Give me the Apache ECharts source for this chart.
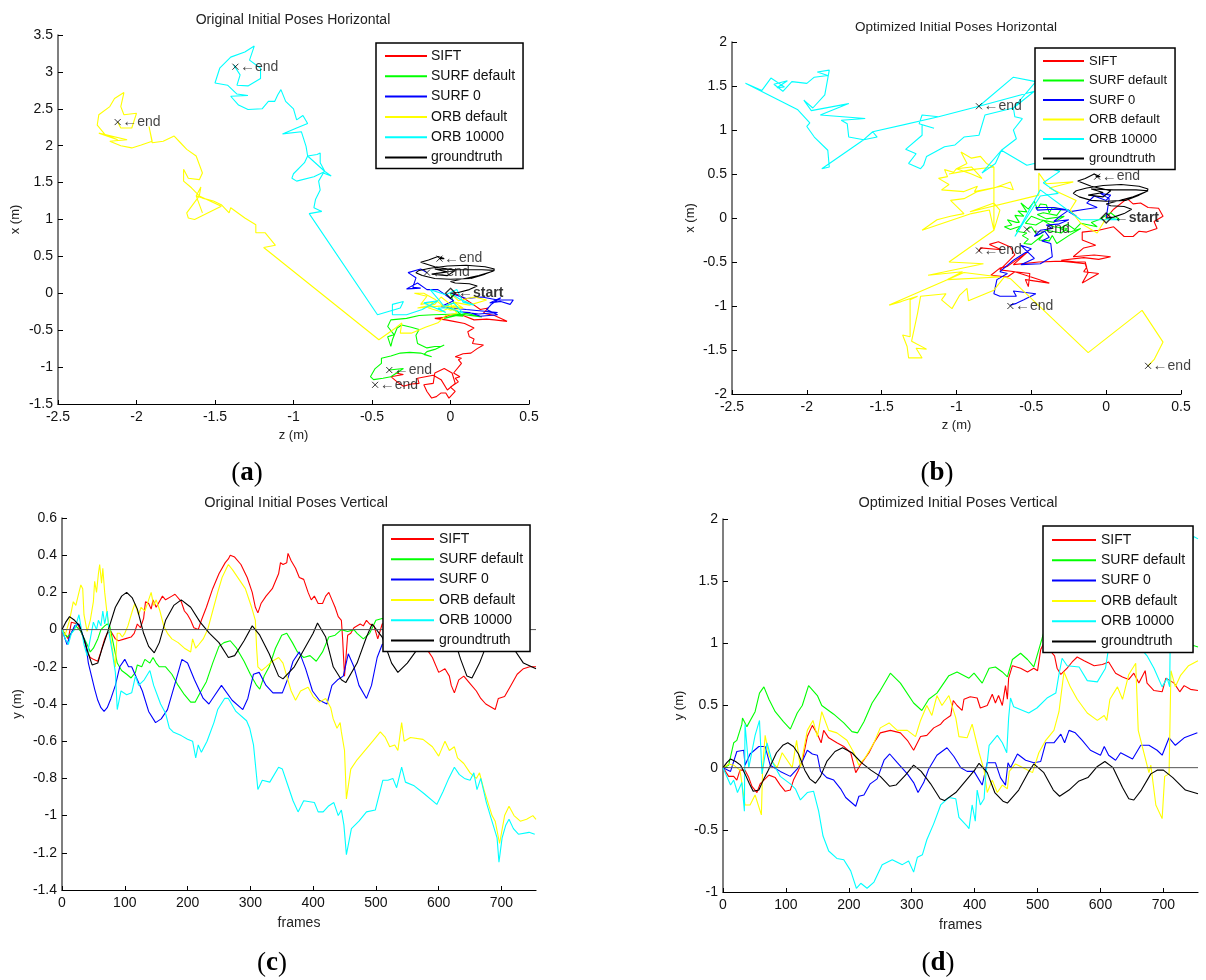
<!DOCTYPE html>
<html><head><meta charset="utf-8">
<style>html,body{margin:0;padding:0;background:#fff}#c{width:1206px;height:980px}</style>
<script src="https://cdn.jsdelivr.net/npm/echarts@6/dist/echarts.min.js"></script>
</head><body><div id="c"></div>
<script>
const seriesNames=['SIFT','SURF default','SURF 0','ORB default','ORB 10000','groundtruth'];
const seriesColors=['#ff0000','#00ff00','#0000ff','#ffff00','#00ffff','#000000'];
const horizTicksX=[-2.5,-2,-1.5,-1,-0.5,0,0.5];
const ticksYA=[-1.5,-1,-0.5,0,0.5,1,1.5,2,2.5,3,3.5];
const ticksYB=[-2,-1.5,-1,-0.5,0,0.5,1,1.5,2];
const framesTicks=[0,100,200,300,400,500,600,700];
const ticksYC=[-1.4,-1.2,-1,-0.8,-0.6,-0.4,-0.2,0,0.2,0.4,0.6];
const ticksYD=[-1,-0.5,0,0.5,1,1.5,2];
const zeroLine=[[0,0],[755,0]];
const startPoint=[[0,0]];

// groundtruth, same in both horizontal panels
const gtHoriz=[[0,0],[.05,.01],[.12,.05],[.17,.1],[.12,.13],[.03,.14],[.0,.16],[.07,.19],[.18,.24],[.27,.3],[.28,.33],[.22,.36],[.1,.38],[-.02,.37],[-.13,.34],[-.2,.31],[-.22,.28],[-.18,.24],[-.1,.2],[.0,.19],[.13,.2],[.22,.26],[.28,.31],[.2,.32],[.05,.32],[-.1,.33],[-.02,.29],[-.12,.26],[-.02,.24],[.03,.31],[-.1,.36],[-.19,.42],[-.14,.45],[-.08,.5],[-.04,.47],[-.07,.47]];

// (a) Original horizontal: [z, x]
const aSift=[[0,0],[.05,-.02],[.08,-.06],[.13,-.13],[.19,-.22],[.24,-.2],[.21,-.27],[.28,-.3],[.36,-.38],[.28,-.36],[.23,-.35],[.15,-.36],[.08,-.3],[0,-.29],[-.05,-.33],[-.1,-.34],[-.03,-.36],[.02,-.38],[.09,-.41],[.15,-.47],[.11,-.52],[.12,-.59],[.15,-.62],[.14,-.68],[.21,-.7],[.17,-.75],[.13,-.81],[.08,-.82],[.03,-.86],[.07,-.88],[.05,-.9],[.07,-.95],[.02,-1.08],[.06,-1.13],[.03,-1.15],[.05,-1.2],[0,-1.27],[.03,-1.33],[-.01,-1.42],[-.03,-1.35],[-.06,-1.35],[-.09,-1.4],[-.12,-1.42],[-.15,-1.33],[-.17,-1.24],[-.11,-1.22],[-.1,-1.08],[-.04,-1.02],[.01,-1.08],[.03,-1.22],[-.02,-1.31],[-.06,-1.17],[-.11,-1.11],[-.16,-1.13],[-.21,-1.15],[-.2,-1.22],[-.25,-1.23],[-.3,-1.26],[-.34,-1.2],[-.38,-1.13],[-.3,-1.1],[-.35,-1.08]];
const aSurfDefault=[[0,0],[.02,-.13],[-.04,-.18],[.04,-.24],[.08,-.31],[.02,-.3],[-.04,-.34],[.1,-.27],[.2,-.32],[.05,-.28],[-.11,-.29],[-.2,-.3],[-.28,-.34],[-.38,-.36],[-.4,-.45],[-.36,-.56],[-.4,-.59],[-.38,-.72],[-.37,-.63],[-.34,-.47],[-.31,-.43],[-.25,-.46],[-.2,-.49],[-.22,-.57],[-.21,-.68],[-.15,-.74],[-.1,-.72],[-.06,-.72],[-.04,-.7],[-.1,-.76],[-.15,-.79],[-.17,-.83],[-.12,-.86],[-.19,-.81],[-.26,-.8],[-.32,-.81],[-.38,-.85],[-.44,-.88],[-.44,-.95],[-.48,-1.02],[-.51,-1.13],[-.49,-1.17],[-.43,-1.15],[-.38,-1.13],[-.3,-1.02],[-.39,-1.04]];
const aSurf0=[[0,0],[.1,-.07],[.2,-.05],[.3,-.09],[.4,-.09],[.38,-.15],[.32,-.11],[.25,-.13],[.32,-.06],[.26,-.15],[.23,-.22],[.3,-.29],[.19,-.31],[.12,-.26],[.06,-.25],[.18,-.28],[.3,-.26],[.1,-.22],[-.06,-.18],[.02,-.1],[-.08,.05],[-.15,.05],[-.21,.14],[-.28,.06],[-.19,.07],[-.24,.08],[-.22,.21],[-.27,.28],[-.19,.33],[-.15,.28]];
const aOrbDefault=[[0,0],[.05,-.1],[.15,-.05],[.23,-.09],[.12,-.16],[.02,-.12],[.08,-.2],[-.05,-.17],[-.1,-.08],[-.17,0],[-.23,0],[-.15,-.04],[-.19,-.15],[-.11,-.12],[-.14,-.2],[-.06,-.25],[.02,-.17],[.08,-.2],[0,-.23],[-.05,-.17],[-.21,-.2],[-.1,-.15],[-.06,-.05],[0,-.15],[.04,-.27],[-.03,-.3],[-.08,-.4],[-.16,-.46],[-.25,-.54],[-.32,-.54],[-.31,-.4],[-.35,-.47],[-.456,-.63],[-1.19,.62],[-1.115,.65],[-1.18,.82],[-1.24,.82],[-1.24,.93],[-1.31,1.02],[-1.4,1.16],[-1.41,1.09],[-1.46,1.2],[-1.51,1.25],[-1.58,1.29],[-1.62,1.32],[-1.58,1.09],[-1.62,1.32],[-1.59,1.44],[-1.6,1.32],[-1.68,1.09],[-1.67,1.02],[-1.63,1.0],[-1.46,1.18],[-1.6,1.32],[-1.65,1.43],[-1.7,1.52],[-1.7,1.68],[-1.67,1.56],[-1.6,1.54],[-1.58,1.63],[-1.62,1.86],[-1.68,1.95],[-1.72,2.04],[-1.76,2.13],[-1.83,2.06],[-1.9,2.04],[-1.92,2.26],[-1.9,2.06],[-1.97,2.01],[-2.03,1.97],[-2.1,2.0],[-2.17,2.06],[-2.06,2.08],[-2.24,2.17],[-2.12,2.08],[-2.2,2.15],[-2.25,2.28],[-2.24,2.42],[-2.17,2.53],[-2.14,2.64],[-2.08,2.72],[-2.1,2.53],[-2.08,2.42],[-2.0,2.44],[-2.03,2.24],[-2.1,2.24],[-2.12,2.32]];
const aOrb10000=[[0,0],[.06,-.08],[.15,-.16],[.08,-.12],[.04,.05],[-.03,-.02],[-.13,.05],[-.07,-.1],[-.04,-.18],[.02,-.13],[.08,-.27],[0,-.2],[-.08,-.2],[-.03,-.26],[-.17,-.13],[-.08,-.1],[-.18,-.22],[-.28,-.29],[-.37,-.29],[-.37,-.15],[-.3,-.11],[-.32,-.2],[-.465,-.29],[-.9,1.08],[-.82,1.11],[-.87,1.16],[-.86,1.27],[-.83,1.4],[-.84,1.52],[-.81,1.63],[-.76,1.59],[-.8,1.65],[-.87,1.58],[-.98,1.52],[-1.01,1.56],[-1.0,1.62],[-.93,1.77],[-.91,1.86],[-.85,1.88],[-.83,1.9],[-.83,1.77],[-.8,1.65],[-.91,1.86],[-.92,1.99],[-.95,2.19],[-1.07,2.16],[-.98,2.24],[-.91,2.3],[-.94,2.41],[-.98,2.35],[-1.0,2.5],[-1.05,2.6],[-1.08,2.76],[-1.1,2.69],[-1.12,2.6],[-1.16,2.6],[-1.2,2.5],[-1.29,2.49],[-1.35,2.55],[-1.4,2.67],[-1.29,2.68],[-1.36,2.7],[-1.42,2.82],[-1.5,2.85],[-1.47,3.05],[-1.4,3.2],[-1.31,3.27],[-1.25,3.35],[-1.28,3.16],[-1.21,3.05],[-1.21,2.91],[-1.29,2.81],[-1.36,2.82],[-1.34,2.96],[-1.38,3.09],[-1.37,3.07]];
const aEnds=[[-2.12,2.32],[-1.37,3.07],[-.07,.47],[-.15,.28],[-.39,-1.04],[-.48,-1.24]];

// (b) Optimized horizontal: [z, x]
const bSift=[[0,0],[.05,.1],[.14,.22],[.18,.16],[.23,.17],[.28,.12],[.35,.11],[.38,.02],[.32,-.04],[.34,-.12],[.27,-.16],[.22,-.15],[.18,-.21],[.12,-.21],[.05,-.1],[-.05,-.14],[-.16,-.16],[-.16,-.25],[-.07,-.31],[-.15,-.34],[-.22,-.44],[-.08,-.42],[.03,-.44],[-.05,-.47],[-.15,-.45],[-.3,-.48],[-.2,-.5],[-.14,-.5],[-.13,-.56],[-.15,-.61],[-.05,-.63],[-.1,-.68],[-.16,-.74],[-.12,-.62],[-.14,-.52],[-.3,-.49],[-.45,-.5],[-.62,-.53],[-.52,-.38],[-.66,-.55],[-.71,-.57],[-.77,-.65],[-.66,-.67],[-.61,-.61],[-.51,-.63],[-.52,-.78],[-.54,-.7],[-.38,-.74],[-.45,-.7],[-.61,-.61],[-.71,-.59],[-.61,-.42],[-.64,-.33],[-.72,-.27],[-.78,-.3],[-.7,-.36],[-.84,-.34],[-.85,-.38]];
const bSurfDefault=[[0,0],[.09,-.02],[.03,.06],[-.05,-.02],[-.1,-.05],[-.06,-.1],[-.17,-.06],[-.21,-.13],[-.26,-.07],[-.31,-.12],[-.24,-.16],[-.17,-.12],[-.25,-.2],[-.33,-.29],[-.36,-.2],[-.38,-.26],[-.45,-.25],[-.42,-.19],[-.5,-.3],[-.55,-.29],[-.52,-.24],[-.56,-.2],[-.53,-.17],[-.6,-.15],[-.57,-.09],[-.64,-.13],[-.68,-.1],[-.63,-.08],[-.66,-.02],[-.6,-.05],[-.58,-.05],[-.61,.03],[-.55,.02],[-.59,.08],[-.53,.07],[-.57,.17],[-.52,.1],[-.48,.19],[-.46,.1],[-.44,.16],[-.4,.15],[-.38,.06],[-.36,.12],[-.3,.1],[-.33,.03],[-.42,.06],[-.46,.04],[-.4,-.01],[-.28,.02],[-.35,-.05],[-.44,-.02],[-.5,.02],[-.54,-.06],[-.47,-.08],[-.42,-.03],[-.35,-.1],[-.26,-.12],[-.3,-.17],[-.4,-.14],[-.46,-.2],[-.5,-.1],[-.53,-.13]];
const bSurf0=[[0,0],[.02,.22],[-.04,.28],[.03,.26],[0,.2],[-.08,.25],[-.13,.17],[-.06,.12],[-.14,.1],[-.25,.07],[-.2,.02],[-.25,.09],[-.35,.12],[-.47,.12],[-.46,.09],[-.35,.1],[-.25,.09],[-.3,.03],[-.35,-.04],[-.25,-.02],[-.32,-.07],[-.4,-.08],[-.36,-.12],[-.44,-.14],[-.48,-.21],[-.41,-.15],[-.38,-.22],[-.43,-.26],[-.37,-.29],[-.36,-.44],[-.44,-.52],[-.57,-.53],[-.48,-.46],[-.57,-.31],[-.5,-.35],[-.62,-.48],[-.71,-.61],[-.66,-.63],[-.73,-.7],[-.75,-.86],[-.71,-.89],[-.6,-.89],[-.62,-.83],[-.47,-.86],[-.55,-.93],[-.6,-.97],[-.64,-.99]];
const bOrbDefault=[[0,0],[-.06,-.17],[-.17,-.06],[-.24,.09],[-.2,.2],[-.38,.34],[-.22,.41],[-.4,.39],[-.45,.51],[-.45,.26],[-.91,.07],[-.75,.17],[-.71,.09],[-.75,-.14],[-.78,.09],[-.9,.05],[-1.23,-.14],[-1.13,-.02],[-1.04,.02],[-.95,.05],[-1.04,.2],[-.95,.22],[-.86,.3],[-.75,.34],[-.64,.41],[-.62,.32],[-.7,.36],[-.88,.3],[-.86,.36],[-.95,.3],[-1.1,.32],[-1.05,.38],[-1.12,.45],[-1.06,.47],[-1.08,.55],[-1.02,.52],[-1,.56],[-.9,.58],[-.83,.45],[-.9,.5],[-1,.56],[-.93,.62],[-.97,.75],[-.9,.68],[-.84,.7],[-.8,.62],[-.75,.58],[-.85,.56],[-1.05,.5],[-.9,.55],[-.75,.58],[-.75,-.14],[-1.05,-.5],[-.82,-.52],[-1.19,-.65],[-.96,-.61],[-1.06,-.7],[-.71,-.67],[-.95,-.62],[-1.45,-.99],[-1.37,-.95],[-1.26,-.89],[-1.31,-.93],[-1.31,-1.35],[-1.36,-1.33],[-1.33,-1.46],[-1.32,-1.59],[-1.23,-1.59],[-1.27,-1.48],[-1.2,-1.49],[-1.3,-1.4],[-1.26,-1.08],[-1.24,-.89],[-1.07,-.86],[-1.1,-.93],[-1.03,-1.03],[-.98,-.88],[-.93,-.8],[-.92,-.94],[-.75,-.82],[-.68,-.67],[-.64,-.69],[-.12,-1.53],[.24,-1.05],[.38,-1.41],[.32,-1.61],[.28,-1.68]];
const bOrb10000=[[0,0],[.09,-.02],[-.17,-.02],[-.44,.32],[-.61,-.21],[-.44,.25],[-.32,.28],[-.42,.4],[-.31,.53],[-.48,.62],[-.53,.6],[-.7,.77],[-.74,.62],[-.83,.51],[-.7,.77],[-.6,.9],[-.62,1.0],[-.56,1.13],[-.61,1.15],[-.62,1.25],[-.81,1.17],[-.85,.94],[-.95,.92],[-1.01,.83],[-1.08,.81],[-1.2,.7],[-1.22,.6],[-1.24,.56],[-1.32,.62],[-1.27,.73],[-1.34,.78],[-1.23,.94],[-1.23,1.06],[-1.15,1.02],[-1.25,1.07],[-1.23,1.17],[-1.12,1.15],[-1.35,1.06],[-1.56,.98],[-1.53,.92],[-1.62,.89],[-1.9,.56],[-1.85,.58],[-1.86,.77],[-1.95,.92],[-2.0,1.04],[-1.98,1.08],[-2.06,1.23],[-2.41,1.53],[-2.3,1.45],[-2.24,1.59],[-2.15,1.49],[-2.2,1.48],[-2.13,1.56],[-2.22,1.52],[-2.16,1.44],[-2.1,1.55],[-2,1.53],[-1.95,1.6],[-1.86,1.62],[-1.93,1.66],[-1.85,1.68],[-1.88,1.4],[-1.96,1.25],[-2.02,1.34],[-1.97,1.22],[-1.72,1.3],[-1.91,1.17],[-1.61,1.13],[-1.77,1.11],[-1.73,1.07],[-1.72,.92],[-1.62,.89],[-1.56,.98],[-1.12,1.15],[-.85,1.27],[-.62,1.6],[-.47,1.55],[-.62,1.25],[-.48,1.44],[-.85,1.27]];
const bEnds=[[-.85,1.27],[-.06,.47],[.28,-1.68],[-.64,-1],[-.85,-.37],[-.53,-.13]];

// vertical: shared groundtruth [frame, y]
const gtVert=[[0,0],[6,.04],[12,.07],[20,.05],[28,.02],[35,-.05],[42,-.13],[48,-.19],[57,-.18],[64,-.1],[72,-.02],[85,.12],[95,.18],[103,.2],[112,.17],[120,.11],[130,-.02],[138,-.09],[147,-.125],[155,-.07],[165,.05],[178,.13],[190,.16],[205,.12],[220,.04],[235,-.02],[250,-.07],[265,-.15],[275,-.14],[290,-.06],[303,.02],[315,-.03],[330,-.13],[345,-.25],[352,-.265],[370,-.2],[385,-.11],[400,-.02],[407,.035],[420,-.04],[432,-.2],[445,-.27],[452,-.285],[470,-.18],[485,-.04],[494,.03],[510,-.04],[525,-.18],[535,-.23],[550,-.18],[565,-.11],[580,-.08],[595,.01],[607,.05],[620,0],[635,-.16],[645,-.25],[653,-.26],[665,-.18],[680,-.05],[690,-.02],[700,-.02],[715,-.08],[735,-.18],[755,-.21]];

// (c) Original vertical
const cSift=[[0,0],[10,-.05],[15,.04],[25,.03],[28,.04],[35,-.05],[40,-.12],[45,-.15],[50,-.16],[57,-.17],[62,-.12],[68,-.05],[72,-.02],[78,-.01],[85,-.05],[90,-.06],[100,-.05],[110,-.04],[115,-.02],[120,.03],[125,.01],[130,.06],[133,.15],[138,.14],[142,.11],[145,.16],[150,.12],[155,.15],[160,.18],[165,.16],[175,.18],[180,.19],[190,.15],[195,.1],[200,.08],[205,.05],[210,.01],[217,0],[222,.05],[230,.12],[240,.22],[250,.3],[260,.36],[265,.38],[268,.4],[275,.39],[285,.35],[295,.28],[303,.2],[308,.12],[312,.09],[317,.14],[325,.18],[335,.22],[345,.3],[348,.36],[352,.35],[358,.36],[360,.41],[365,.37],[372,.33],[378,.28],[385,.27],[392,.2],[397,.16],[402,.18],[408,.14],[415,.14],[420,.18],[425,.2],[430,.16],[435,.12],[440,.07],[445,.05],[447,-.05],[450,-.25],[453,-.26],[455,-.03],[460,-.02],[465,.01],[475,.03],[480,.02],[485,.05],[490,.03],[497,.02],[503,-.05],[510,.03],[530,.05],[560,0],[584,-.12],[590,-.15],[600,-.23],[610,-.21],[617,-.25],[620,-.3],[625,-.34],[632,-.27],[640,-.25],[650,-.29],[660,-.33],[667,-.37],[675,-.4],[690,-.43],[695,-.37],[705,-.36],[715,-.3],[725,-.24],[735,-.21],[745,-.2],[755,-.2]];
const cSurfDefault=[[0,0],[8,-.04],[15,-.02],[22,.02],[30,-.01],[40,-.08],[45,-.12],[50,-.1],[57,-.05],[62,0],[68,.02],[72,.03],[76,.02],[82,-.08],[88,-.18],[95,-.22],[103,-.24],[110,-.26],[117,-.23],[120,-.19],[127,-.2],[132,-.16],[140,-.18],[145,-.15],[150,-.18],[155,-.2],[165,-.2],[175,-.24],[185,-.3],[195,-.35],[205,-.39],[212,-.39],[220,-.34],[230,-.28],[240,-.18],[250,-.09],[258,-.07],[268,-.06],[278,-.1],[290,-.17],[300,-.24],[310,-.3],[315,-.32],[322,-.25],[330,-.2],[340,-.1],[350,-.03],[358,-.02],[367,-.07],[375,-.12],[385,-.15],[395,-.14],[405,-.17],[415,-.12],[425,-.04],[435,-.03],[445,0],[455,-.01],[465,0],[470,-.02],[480,-.05],[490,-.02],[500,.05],[510,.06],[530,.03]];
const cSurf0=[[0,0],[8,-.08],[13,-.03],[20,.02],[27,.03],[32,-.02],[38,-.08],[42,-.18],[47,-.25],[52,-.32],[57,-.38],[62,-.42],[67,-.44],[72,-.42],[78,-.37],[85,-.3],[92,-.2],[100,-.16],[106,-.2],[111,-.2],[120,-.27],[128,-.33],[138,-.44],[149,-.5],[158,-.48],[168,-.43],[180,-.29],[191,-.16],[200,-.18],[211,-.27],[225,-.37],[234,-.4],[242,-.36],[254,-.3],[271,-.38],[288,-.43],[296,-.37],[305,-.24],[314,-.23],[325,-.3],[336,-.34],[351,-.34],[359,-.27],[368,-.17],[378,-.12],[388,-.21],[399,-.33],[410,-.38],[422,-.4],[430,-.3],[439,-.27],[448,-.25],[456,-.13],[465,-.2],[473,-.3],[485,-.37],[493,-.3],[502,-.15],[510,-.08],[530,-.05]];
const cOrbDefault=[[0,0],[5,-.03],[12,.05],[18,.15],[22,.13],[27,.2],[30,.24],[33,.22],[35,.08],[40,-.01],[45,.05],[50,.15],[52,.26],[55,.2],[58,.3],[60,.35],[63,.25],[65,.33],[68,.2],[72,.08],[76,0],[80,-.1],[85,-.2],[88,-.02],[92,-.02],[96,-.04],[100,-.02],[105,.02],[112,.1],[116,.14],[122,.08],[126,.12],[132,.1],[138,.16],[142,.2],[146,.13],[150,.16],[156,.1],[162,.02],[168,-.02],[175,-.05],[185,-.07],[195,-.1],[205,-.12],[208,-.05],[213,-.1],[218,-.08],[225,-.05],[232,0],[240,.1],[248,.2],[255,.28],[262,.33],[265,.35],[272,.32],[282,.27],[292,.22],[302,.12],[308,.05],[310,-.1],[312,-.2],[318,-.22],[325,-.2],[335,-.17],[345,-.15],[352,-.18],[358,-.25],[365,-.33],[372,-.38],[380,-.33],[392,-.31],[400,-.36],[410,-.39],[420,-.37],[428,-.42],[432,-.48],[438,-.53],[443,-.5],[445,-.55],[450,-.65],[453,-.91],[460,-.75],[470,-.7],[480,-.66],[495,-.6],[507,-.55],[515,-.58],[522,-.63],[530,-.62],[535,-.65],[541,-.5],[545,-.6],[555,-.58],[575,-.59],[590,-.63],[600,-.68],[605,-.64],[610,-.6],[617,-.65],[625,-.63],[630,-.69],[640,-.72],[650,-.77],[660,-.8],[665,-.77],[672,-.86],[685,-1],[690,-1.03],[697,-1.15],[705,-1],[712,-.95],[720,-1],[730,-1.03],[740,-1.02],[750,-1],[755,-1.02]];
const cOrb10000=[[0,0],[5,-.05],[10,-.08],[15,-.02],[20,0],[27,.08],[30,.02],[35,-.08],[40,-.14],[45,-.05],[50,.04],[55,0],[58,.05],[62,.02],[65,.1],[68,.03],[72,.1],[75,-.02],[80,-.12],[85,-.23],[88,-.43],[94,-.33],[103,-.35],[111,-.34],[117,-.25],[122,-.3],[131,-.27],[140,-.22],[146,-.3],[157,-.4],[165,-.45],[171,-.53],[177,-.55],[190,-.57],[200,-.59],[208,-.6],[213,-.69],[217,-.62],[222,-.66],[231,-.6],[242,-.5],[248,-.43],[259,-.37],[265,-.37],[277,-.44],[294,-.49],[299,-.53],[305,-.62],[308,-.63],[312,-.86],[319,-.81],[331,-.82],[345,-.74],[351,-.75],[359,-.83],[368,-.92],[376,-.98],[385,-.92],[402,-.93],[408,-.98],[416,-.98],[424,-.95],[433,-.93],[440,-1],[445,-.97],[449,-1.05],[453,-1.21],[461,-1.07],[473,-1.03],[485,-.98],[499,-.97],[511,-.81],[519,-.81],[527,-.8],[533,-.85],[541,-.74],[547,-.82],[561,-.84],[576,-.88],[597,-.94],[607,-.87],[616,-.8],[625,-.74],[633,-.78],[641,-.8],[650,-.81],[656,-.77],[661,-.86],[667,-.8],[676,-.93],[684,-1.02],[693,-1.12],[696,-1.25],[701,-1.12],[707,-1.05],[712,-1.02],[719,-1.07],[727,-1.1],[744,-1.09],[753,-1.1]];

// (d) Optimized vertical
const dSift=[[0,0],[9,-.07],[17,-.07],[22,-.1],[27,-.02],[35,-.02],[41,-.08],[46,-.15],[54,-.2],[59,-.13],[65,-.1],[73,-.06],[83,-.08],[91,-.14],[99,-.19],[107,-.18],[112,-.1],[120,-.02],[126,.05],[134,.25],[142,.34],[150,.27],[156,.2],[160,.3],[168,.24],[181,.2],[192,.17],[203,.12],[211,-.04],[218,.02],[232,.12],[240,.2],[250,.28],[266,.3],[282,.28],[293,.22],[303,.14],[314,.25],[324,.26],[335,.32],[346,.35],[351,.38],[362,.42],[366,.54],[372,.5],[380,.46],[383,.55],[393,.57],[404,.56],[409,.48],[420,.5],[428,.59],[433,.52],[438,.58],[444,.5],[449,.66],[452,.55],[454,.72],[460,.82],[473,.8],[484,.77],[494,.8],[500,.78],[505,.95],[510,1],[527,.9],[531,.8],[537,.75],[547,.8],[555,.85],[563,.89],[574,.86],[590,.82],[603,.83],[613,.85],[624,.76],[635,.73],[645,.71],[653,.76],[661,.68],[671,.78],[674,.68],[685,.62],[698,.61],[704,.72],[717,.68],[726,.61],[733,.66],[743,.63],[755,.62]];
const dSurfDefault=[[0,0],[9,.02],[17,.2],[22,.22],[30,.35],[31,.4],[38,.33],[51,.45],[58,.6],[65,.65],[73,.55],[83,.45],[96,.37],[107,.31],[118,.44],[126,.5],[136,.66],[150,.58],[157,.5],[176,.43],[192,.36],[205,.29],[214,.28],[224,.37],[237,.52],[250,.62],[266,.76],[282,.68],[303,.52],[316,.46],[327,.55],[340,.6],[359,.74],[372,.77],[391,.72],[399,.76],[412,.68],[423,.8],[433,.81],[444,.77],[452,.73],[460,.87],[473,.92],[484,.87],[494,.81],[502,.95],[510,1.09],[530,1.05],[749,.98],[755,.97]];
const dSurf0=[[0,0],[12,-.03],[17,.05],[22,.13],[33,.14],[35,.02],[43,.11],[57,.17],[67,.17],[75,.02],[91,-.03],[107,-.07],[118,-.01],[126,.05],[134,.14],[142,.11],[150,.1],[155,-.03],[165,-.08],[176,-.1],[187,-.17],[195,-.24],[211,-.31],[216,-.23],[224,-.22],[234,-.13],[245,-.09],[256,.06],[265,.11],[277,.04],[293,-.05],[303,-.12],[310,-.2],[319,-.12],[327,-.01],[340,.1],[356,.16],[367,.09],[378,0],[388,-.03],[399,-.03],[412,-.14],[420,.04],[433,.04],[441,-.08],[449,-.14],[453,.04],[457,0],[468,.11],[481,.06],[494,.04],[505,.05],[513,.2],[526,.2],[537,.27],[543,.2],[550,.3],[560,.28],[571,.22],[584,.14],[600,.1],[606,.17],[613,.1],[624,.06],[632,.12],[651,.07],[664,.18],[677,.18],[690,.14],[698,.1],[709,.24],[719,.18],[733,.24],[754,.28]];
const dOrbDefault=[[0,0],[9,.03],[17,.02],[27,-.02],[35,-.3],[43,-.3],[51,-.22],[61,-.38],[63,0],[67,.26],[73,.1],[78,.05],[86,0],[94,.12],[110,0],[117,.22],[123,0],[134,.3],[143,.38],[150,.25],[157,.45],[168,.3],[181,.28],[197,.22],[208,.12],[216,.02],[226,.08],[240,.2],[250,.32],[264,.36],[277,.3],[293,.3],[306,.25],[314,.38],[324,.5],[332,.42],[340,.58],[348,.5],[359,.58],[370,.4],[375,.25],[388,.24],[396,.35],[407,.12],[415,-.02],[420,-.2],[428,-.1],[436,-.2],[444,-.14],[452,-.17],[455,-.03],[465,.03],[481,-.01],[492,-.04],[502,.12],[513,.22],[526,.3],[534,.45],[542,.77],[552,.65],[563,.55],[579,.44],[595,.38],[606,.42],[610,.38],[615,.55],[627,.65],[635,.55],[645,.75],[656,.84],[660,.3],[664,.22],[677,-.04],[680,.02],[688,-.3],[698,-.41],[702,-.07],[709,-.05],[712,.78],[719,.65],[727,.74],[740,.82],[755,.86]];
const dOrb10000=[[0,0],[12,-.14],[17,-.1],[23,-.2],[30,-.12],[34,-.35],[35,.35],[41,0],[51,.26],[58,.38],[62,-.05],[70,.2],[78,.05],[91,-.07],[107,-.13],[115,-.17],[123,-.26],[134,-.2],[144,-.19],[152,-.35],[159,-.55],[168,-.67],[181,-.73],[192,-.74],[203,-.83],[212,-.97],[219,-.93],[229,-.97],[240,-.92],[253,-.78],[269,-.74],[285,-.78],[295,-.75],[303,-.84],[309,-.72],[317,-.7],[324,-.58],[335,-.45],[346,-.3],[359,-.24],[370,-.25],[375,-.4],[388,-.47],[391,-.49],[396,-.3],[401,-.43],[404,-.18],[409,-.3],[415,-.25],[417,-.1],[423,.18],[436,.26],[444,.2],[451,.12],[454,.4],[457,.56],[462,.49],[486,.44],[499,.48],[515,.56],[529,.6],[534,.75],[539,.88],[547,.82],[566,.81],[579,.7],[595,.69],[608,.8],[614,1],[640,1.1],[674,.9],[685,.8],[698,.65],[706,.72],[710,.65],[711,1.1],[730,1.5],[748,1.86],[755,1.84]];

const chart=echarts.init(document.getElementById('c'),null,{renderer:'canvas'});
const F='"Liberation Sans",Arial,sans-serif';
const panels=[
 {g:{left:58,top:35,width:471,height:369},x:[-2.5,.5,.5],y:[-1.5,3.5,.5],xt:horizTicksX,yt:ticksYA,xn:'z (m)',yn:'x (m)',xg:25,yg:36,
  data:[aSift,aSurfDefault,aSurf0,aOrbDefault,aOrb10000,gtHoriz],ends:aEnds,start:true,leg:{left:376,top:43,pad:[6,8,4,9],iw:42,ig:6.3,fs:14,tg:4}},
 {g:{left:732,top:42,width:449,height:352},x:[-2.5,.5,.5],y:[-2,2,.5],xt:horizTicksX,yt:ticksYB,xn:'z (m)',yn:'x (m)',xg:25,yg:35,
  data:[bSift,bSurfDefault,bSurf0,bOrbDefault,bOrb10000,gtHoriz],ends:bEnds,start:true,leg:{left:1035,top:48,pad:[6,8,4,8],iw:41,ig:5.5,fs:13,tg:5}},
 {g:{left:62,top:518,width:474,height:372},x:[0,755,100],y:[-1.4,.6,.2],xt:framesTicks,yt:ticksYC,xn:'frames',yn:'y (m)',xg:26,yg:38,
  data:[cSift,cSurfDefault,cSurf0,cOrbDefault,cOrb10000,gtVert],leg:{left:383,top:525,pad:[7,7,4,8],iw:43,ig:6.3,fs:14,tg:5}},
 {g:{left:723,top:519,width:475,height:373},x:[0,755,100],y:[-1,2,.5],xt:framesTicks,yt:ticksYD,xn:'frames',yn:'y (m)',xg:26,yg:37,
  data:[dSift,dSurfDefault,dSurf0,dOrbDefault,dOrb10000,gtVert],leg:{left:1043,top:526,pad:[7,8,4,9],iw:44,ig:6.3,fs:14,tg:5}}
];
const titles=[['Original Initial Poses Horizontal',293,13,14],['Optimized Initial Poses Horizontal',956,20,13.5],['Original Initial Poses Vertical',296,495,14.5],['Optimized Initial Poses Vertical',958,495,14.5]];
const captions=[['a',247,460],['b',937,460],['c',272,950],['d',938,950]];
const fmt=v=>String(v);
const series=[],xAxis=[],yAxis=[],grid=[],legend=[];
panels.forEach((p,i)=>{
  grid.push(p.g);
  xAxis.push({type:'value',gridIndex:i,min:p.x[0],max:p.x[1],interval:p.x[2],splitLine:{show:false},
    axisLine:{onZero:false,lineStyle:{color:'#000',width:1.2}},axisTick:{inside:true,length:4,lineStyle:{color:'#000'},customValues:p.xt},
    axisLabel:{customValues:p.xt,formatter:fmt,color:'#111',fontFamily:F,fontSize:14,margin:6,hideOverlap:false},
    name:p.xn,nameLocation:'middle',nameGap:p.xg,nameTextStyle:{color:'#222',fontFamily:F,fontSize:p.xn==='frames'?14:13}});
  yAxis.push({type:'value',gridIndex:i,min:p.y[0],max:p.y[1],interval:p.y[2],splitLine:{show:false},
    axisLine:{onZero:false,lineStyle:{color:'#555',width:1.5}},axisTick:{inside:true,length:5,lineStyle:{color:'#000'},customValues:p.yt},
    axisLabel:{customValues:p.yt,formatter:fmt,color:'#111',fontFamily:F,fontSize:14,margin:5,hideOverlap:false},
    name:p.yn,nameLocation:'middle',nameGap:p.yg,nameRotate:90,nameTextStyle:{color:'#222',fontFamily:F,fontSize:13}});
  p.data.forEach((d,k)=>series.push({name:seriesNames[k],type:'line',xAxisIndex:i,yAxisIndex:i,data:d,showSymbol:false,symbol:'none',
    silent:true,animation:false,lineStyle:{width:1.1,color:seriesColors[k]},itemStyle:{color:seriesColors[k]},z:2+k*0.01}));
  if(!p.ends) series.push({name:'zero',type:'line',xAxisIndex:i,yAxisIndex:i,data:zeroLine,showSymbol:false,symbol:'none',silent:true,animation:false,lineStyle:{width:1,color:'#555'},z:2.1});
  if(p.ends) series.push({name:'ends',type:'scatter',xAxisIndex:i,yAxisIndex:i,data:p.ends,symbol:'path://M0 0L10 10M10 0L0 10',symbolSize:6,silent:true,animation:false,
    itemStyle:{color:'none',borderColor:'#000',borderWidth:1},z:3,label:{show:true,position:'right',distance:-1,formatter:'{a|\u2190}end',color:'#111',fontFamily:F,fontSize:14,rich:{a:{fontFamily:F,fontSize:15,color:'#111'}}}});
  if(p.start) series.push({name:'start',type:'scatter',xAxisIndex:i,yAxisIndex:i,data:startPoint,symbol:'diamond',symbolSize:10,silent:true,animation:false,
    itemStyle:{color:'none',borderColor:'#000',borderWidth:1.3},z:3,label:{show:true,position:'right',distance:0,formatter:'{a|\u2190}start',color:'#000',fontWeight:'bold',fontFamily:F,fontSize:14,rich:{a:{fontFamily:F,fontSize:15,color:'#000'}}}});
  const L=p.leg;
  legend.push({data:seriesNames,orient:'vertical',left:L.left,top:L.top,padding:L.pad,itemWidth:L.iw,itemHeight:2,icon:'rect',itemGap:L.ig,selectedMode:false,
    backgroundColor:'#fff',borderColor:'#000',borderWidth:1.5,borderRadius:0,align:'left',
    textStyle:{color:'#111',fontFamily:F,fontSize:L.fs,lineHeight:14,padding:[0,0,0,L.tg-5]}});
});
const title=titles.map(t=>({text:t[0],left:t[1],top:t[2],textAlign:'center',padding:0,textStyle:{color:'#222',fontFamily:F,fontSize:t[3],fontWeight:'normal'}}));
captions.forEach(c=>title.push({text:'{r|(}{b|'+c[0]+'}{r|)}',left:c[1],top:c[2],textAlign:'center',padding:0,textStyle:{rich:{r:{fontFamily:'"Liberation Serif"',fontSize:27,color:'#000',fontWeight:'normal'},b:{fontFamily:'"Liberation Serif"',fontSize:27,color:'#000',fontWeight:'bold'}}}}));
chart.setOption({animation:false,backgroundColor:'#fff',title,grid,xAxis,yAxis,legend,series});
</script></body></html>
